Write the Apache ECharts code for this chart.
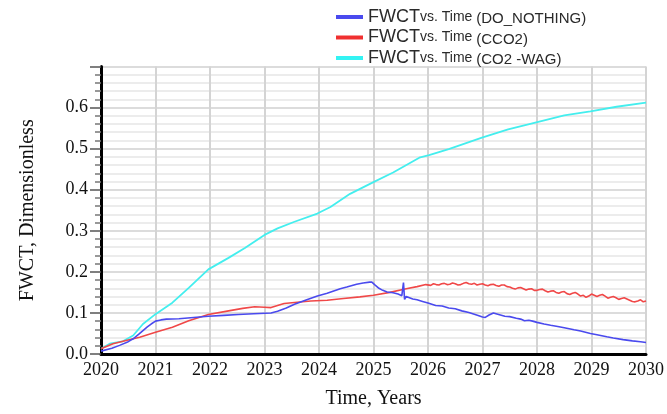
<!DOCTYPE html>
<html>
<head>
<meta charset="utf-8">
<script src="https://cdn.jsdelivr.net/npm/echarts@6/dist/echarts.min.js"></script>
<style>html,body{margin:0;padding:0;background:#fff}#c{width:667px;height:414px}</style>
</head>
<body>
<div id="c"></div>
<script>
var seriesNames = ['DO_NOTHING', 'CCO2', 'CO2 -WAG'];
var yTickLabels = ['0.0','0.1','0.2','0.3','0.4','0.5','0.6'];

var doNothingT = [2020.0,2020.2,2020.34,2020.5,2020.59,2020.7,2020.77,2020.85,2020.92,2021.0,2021.1,2021.2,2021.43,2021.7,2021.97,2022.25,2022.52,2022.8,2023.12,2023.24,2023.4,2023.55,2023.75,2023.97,2024.15,2024.39,2024.51,2024.69,2024.81,2024.93,2024.97,2025.02,2025.1,2025.17,2025.25,2025.36,2025.45,2025.52,2025.55,2025.57,2025.6,2025.72,2025.8,2025.9,2026.0,2026.14,2026.26,2026.38,2026.5,2026.62,2026.75,2026.92,2027.0,2027.05,2027.12,2027.2,2027.28,2027.41,2027.5,2027.62,2027.7,2027.77,2027.85,2027.92,2028.0,2028.13,2028.25,2028.38,2028.5,2028.68,2028.8,2028.98,2029.1,2029.28,2029.4,2029.58,2029.75,2029.9,2030.0];
var doNothingV = [0.007,0.014,0.021,0.030,0.037,0.049,0.057,0.066,0.073,0.080,0.083,0.085,0.086,0.089,0.092,0.094,0.096,0.098,0.100,0.104,0.112,0.121,0.131,0.141,0.148,0.159,0.163,0.170,0.173,0.175,0.175,0.169,0.160,0.155,0.151,0.149,0.146,0.142,0.174,0.133,0.140,0.134,0.132,0.128,0.124,0.118,0.117,0.112,0.110,0.105,0.101,0.094,0.090,0.089,0.095,0.100,0.097,0.092,0.091,0.087,0.085,0.081,0.082,0.080,0.077,0.073,0.070,0.067,0.064,0.059,0.056,0.050,0.047,0.042,0.039,0.035,0.032,0.030,0.028];

var cco2T = [2020.0,2020.22,2020.46,2020.71,2021.0,2021.31,2021.61,2021.97,2022.34,2022.6,2022.82,2023.0,2023.12,2023.24,2023.36,2023.6,2023.85,2024.15,2024.45,2024.75,2025.0,2025.3,2025.6,2025.8,2025.96,2026.05,2026.1,2026.15,2026.2,2026.25,2026.3,2026.35,2026.4,2026.45,2026.5,2026.55,2026.6,2026.65,2026.7,2026.75,2026.8,2026.85,2026.9,2026.95,2027.0,2027.05,2027.1,2027.15,2027.2,2027.25,2027.3,2027.35,2027.4,2027.45,2027.5,2027.55,2027.6,2027.65,2027.7,2027.75,2027.8,2027.85,2027.9,2027.95,2028.0,2028.05,2028.1,2028.15,2028.2,2028.25,2028.3,2028.35,2028.4,2028.45,2028.5,2028.55,2028.6,2028.65,2028.7,2028.75,2028.8,2028.85,2028.9,2028.95,2029.0,2029.05,2029.1,2029.15,2029.2,2029.25,2029.3,2029.35,2029.4,2029.45,2029.5,2029.55,2029.6,2029.65,2029.7,2029.75,2029.8,2029.85,2029.9,2029.95,2030.0];
var cco2V = [0.013,0.025,0.033,0.041,0.053,0.065,0.081,0.096,0.105,0.111,0.115,0.114,0.113,0.118,0.123,0.126,0.129,0.131,0.135,0.139,0.143,0.150,0.159,0.164,0.169,0.167,0.171,0.169,0.168,0.171,0.172,0.169,0.170,0.173,0.171,0.168,0.169,0.172,0.174,0.171,0.170,0.172,0.168,0.170,0.171,0.168,0.166,0.169,0.170,0.167,0.165,0.168,0.168,0.164,0.163,0.160,0.158,0.161,0.162,0.159,0.156,0.158,0.159,0.155,0.155,0.157,0.158,0.154,0.151,0.153,0.154,0.150,0.148,0.151,0.152,0.147,0.145,0.148,0.150,0.146,0.141,0.143,0.138,0.141,0.146,0.143,0.140,0.143,0.145,0.141,0.136,0.138,0.140,0.137,0.133,0.135,0.137,0.134,0.131,0.128,0.127,0.129,0.132,0.127,0.129];

var co2WagT = [2020.0,2020.16,2020.4,2020.59,2020.77,2021.0,2021.31,2021.61,2021.97,2022.34,2022.64,2023.0,2023.24,2023.55,2023.97,2024.21,2024.57,2024.99,2025.36,2025.84,2026.02,2026.38,2026.99,2027.47,2027.95,2028.5,2028.98,2029.46,2030.0];
var co2WagV = [0.013,0.025,0.031,0.045,0.073,0.097,0.125,0.161,0.206,0.234,0.258,0.290,0.306,0.322,0.342,0.358,0.390,0.418,0.442,0.478,0.484,0.499,0.527,0.547,0.563,0.581,0.591,0.602,0.612];

function pairs(t, v) { return t.map(function (x, i) { return [x, v[i]]; }); }

var chart = echarts.init(document.getElementById('c'));
var serif = '"Liberation Serif", "DejaVu Serif", serif';
var sans = '"Liberation Sans", Arial, sans-serif';
chart.setOption({
  animation: false,
  backgroundColor: '#fff',
  grid: { left: 101, right: 14, top: 66.5, bottom: 57, containLabel: false },
  legend: {
    orient: 'vertical', left: 331, top: 3, itemWidth: 27, itemHeight: 4, itemGap: 2,
    icon: 'rect',
    data: seriesNames,
    formatter: function (n) { return '{a|FWCT}{b|vs. Time }{c|(' + n + ')}'; },
    textStyle: {
      fontFamily: sans, color: '#2a2a2a',
      rich: {
        a: { fontSize: 18, fontFamily: sans, color: '#2a2a2a' },
        b: { fontSize: 14, fontFamily: sans, color: '#2a2a2a' },
        c: { fontSize: 15, fontFamily: sans, color: '#2a2a2a', padding: [4, 0, 0, 0] }
      }
    }
  },
  xAxis: {
    type: 'value', min: 2020, max: 2030, interval: 1,
    name: 'Time, Years', nameLocation: 'middle', nameGap: 35,
    nameTextStyle: { fontFamily: serif, fontSize: 20, color: '#111' },
    axisLine: { lineStyle: { color: '#000', width: 3 } },
    axisTick: { show: false },
    axisLabel: { fontFamily: serif, fontSize: 18, color: '#111', margin: 7,
      formatter: function (v) { return String(v); } },
    splitLine: { show: true, lineStyle: { color: '#d4d4d4', width: 2 } }
  },
  yAxis: {
    type: 'value', min: 0, max: 0.7, interval: 0.1,
    name: 'FWCT, Dimensionless', nameLocation: 'middle', nameGap: 63, nameRotate: 90,
    nameTextStyle: { fontFamily: serif, fontSize: 20, color: '#111' },
    axisLine: { show: true, lineStyle: { color: '#000', width: 3 } },
    axisTick: { show: true, length: 11, lineStyle: { color: '#555', width: 1.5 } },
    minorTick: { show: true, splitNumber: 5, length: 6, lineStyle: { color: '#777', width: 1.5 } },
    axisLabel: { fontFamily: serif, fontSize: 18, color: '#111', margin: 13,
      formatter: function (v) { var i = Math.round(v * 10); return i < yTickLabels.length ? yTickLabels[i] : ''; } },
    splitLine: { show: true, lineStyle: { color: '#d0d0d0', width: 1.5 } },
    minorSplitLine: { show: true, lineStyle: { color: '#e6e6e6', width: 1.5 } }
  },
  series: [
    { name: seriesNames[0], type: 'line', data: pairs(doNothingT, doNothingV), showSymbol: false, symbol: 'none',
      lineStyle: { color: '#4a4aee', width: 1.6 }, itemStyle: { color: '#4a4aee' }, z: 4 },
    { name: seriesNames[1], type: 'line', data: pairs(cco2T, cco2V), showSymbol: false, symbol: 'none',
      lineStyle: { color: '#f04848', width: 1.6 }, itemStyle: { color: '#f03030' }, z: 3 },
    { name: seriesNames[2], type: 'line', data: pairs(co2WagT, co2WagV), showSymbol: false, symbol: 'none',
      lineStyle: { color: '#44eeee', width: 1.8 }, itemStyle: { color: '#33f3f3' }, z: 2 }
  ]
});
</script>
</body>
</html>
